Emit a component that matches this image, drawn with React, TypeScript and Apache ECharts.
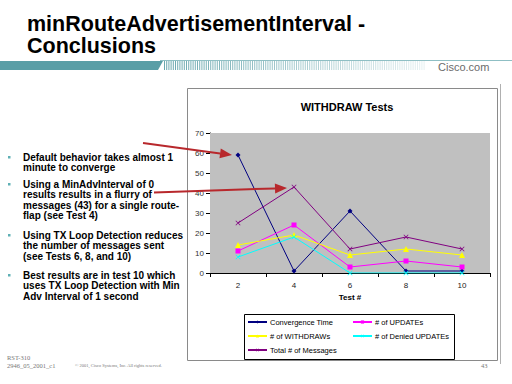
import React, { useEffect, useRef } from "react";
import * as echarts from "echarts";

const categories = ["2", "4", "6", "8", "10"];
const convergenceTime = [59, 1, 31, 1, 1];
const updates = [11, 24, 3, 6, 3];
const withdraws = [14, 19, 9, 12, 9];
const deniedUpdates = [8, 18, 0, 0, 0];
const totalMessages = [25, 43, 12, 18, 12];
const seriesNames = [
  "Convergence Time",
  "# of UPDATEs",
  "# of WITHDRAWs",
  "# of Denied UPDATEs",
  "Total # of Messages",
];

const titleLines = ["minRouteAdvertisementInterval -", "Conclusions"];
const bulletLines = [
  { t: "Default behavior takes almost 1", b: true },
  { t: "minute to converge", b: false },
  { t: "Using a MinAdvInterval of 0", b: true },
  { t: "results results in a flurry of", b: false },
  { t: "messages (43) for a single route-", b: false },
  { t: "flap (see Test 4)", b: false },
  { t: "Using TX Loop Detection reduces", b: true },
  { t: "the number of messages sent", b: false },
  { t: "(see Tests 6, 8, and 10)", b: false },
  { t: "Best results are in test 10 which", b: true },
  { t: "uses TX Loop Detection with Min", b: false },
  { t: "Adv Interval of 1 second", b: false },
];
const bulletY = [157, 167.5, 184, 194.5, 205, 215.5, 235, 245.5, 256, 275, 285.5, 296];

const SANS = 'Arial, "Liberation Sans", sans-serif';
const SERIF = '"Times New Roman", "Liberation Serif", serif';
const XSYM = "path://M0,1L1,0L5,4L9,0L10,1L6,5L10,9L9,10L5,6L1,10L0,9L4,5Z";

function arrow(x1: number, y1: number, x2: number, y2: number, color: string) {
  const dx = x2 - x1;
  const dy = y2 - y1;
  const len = Math.sqrt(dx * dx + dy * dy);
  const ux = dx / len;
  const uy = dy / len;
  const hl = 12;
  const hw = 5;
  const bx = x2 - ux * hl;
  const by = y2 - uy * hl;
  return [
    {
      type: "line",
      z: 200,
      shape: { x1, y1, x2: bx, y2: by },
      style: { stroke: color, lineWidth: 2 },
    },
    {
      type: "polygon",
      z: 200,
      shape: {
        points: [
          [x2, y2],
          [bx - uy * hw, by + ux * hw],
          [bx + uy * hw, by - ux * hw],
        ],
      },
      style: { fill: color },
    },
  ];
}

export default function App() {
  const ref = useRef<HTMLDivElement>(null);
  useEffect(() => {
    if (!ref.current) return;
    const chart = echarts.init(ref.current, undefined, { renderer: "svg" });

    const graphics: any[] = [];
    // header bar
    graphics.push({
      type: "rect",
      z: 1,
      shape: { x: 160, y: 60, width: 352, height: 1 },
      style: { fill: "#8fbfc4" },
    });
    graphics.push({
      type: "polygon",
      z: 2,
      shape: { points: [[0, 61], [163, 61], [158, 70], [0, 70]] },
      style: { fill: "#5a9ea6" },
    });
    for (let x = 164; x < 425; x += 2.2) {
      const f = (x - 164) / (425 - 164);
      graphics.push({
        type: "rect",
        z: 2,
        shape: { x, y: 61, width: 1, height: 9 },
        style: { fill: "#5a9ea6", opacity: 0.9 - 0.75 * f },
      });
    }
    graphics.push({
      type: "text",
      z: 5,
      x: 438,
      y: 67,
      style: { text: "Cisco.com", font: `11px ${SANS}`, fill: "#6b6b6b", verticalAlign: "middle" },
    });
    titleLines.forEach((t, i) => {
      graphics.push({
        type: "text",
        z: 5,
        x: 27,
        y: 23.5 + i * 22.5,
        style: { text: t, font: `bold 21.5px ${SANS}`, fill: "#000", verticalAlign: "middle", lineHeight: 21 },
      });
    });
    bulletLines.forEach((l, i) => {
      graphics.push({
        type: "text",
        z: 5,
        x: 23,
        y: bulletY[i],
        style: { text: l.t, font: `bold 10px ${SANS}`, fill: "#000", verticalAlign: "middle" },
      });
      if (l.b) {
        graphics.push({
          type: "rect",
          z: 5,
          shape: { x: 8, y: bulletY[i] - 1, width: 2.5, height: 2.5 },
          style: { fill: "#5fb0b5" },
        });
      }
    });
    // chart box
    graphics.push({
      type: "rect",
      z: 0,
      shape: { x: 187.5, y: 88.5, width: 310, height: 272 },
      style: { fill: "#fff", stroke: "#8a8a8a", lineWidth: 1 },
    });
    graphics.push({
      type: "line",
      z: 0,
      shape: { x1: 500.5, y1: 84, x2: 500.5, y2: 364 },
      style: { stroke: "#b0b0b0", lineWidth: 1 },
    });
    // legend box
    graphics.push({
      type: "rect",
      z: 1,
      shape: { x: 244.5, y: 314.5, width: 210, height: 45 },
      style: { fill: "#fff", stroke: "#000", lineWidth: 1 },
    });
    // footer
    graphics.push({
      type: "text", z: 5, x: 7, y: 357,
      style: { text: "RST-310", font: `6.5px ${SERIF}`, fill: "#777", verticalAlign: "middle" },
    });
    graphics.push({
      type: "text", z: 5, x: 7, y: 365,
      style: { text: "2946_05_2001_c1", font: `6.5px ${SERIF}`, fill: "#777", verticalAlign: "middle" },
    });
    graphics.push({
      type: "text", z: 5, x: 75, y: 365.5,
      style: { text: "© 2001, Cisco Systems, Inc. All rights reserved.", font: `4.5px ${SERIF}`, fill: "#777", verticalAlign: "middle" },
    });
    graphics.push({
      type: "text", z: 5, x: 481, y: 365,
      style: { text: "43", font: `6.5px ${SERIF}`, fill: "#777", verticalAlign: "middle" },
    });
    // arrows
    graphics.push(...arrow(143, 143, 232, 155, "#b8282c"));
    graphics.push(...arrow(154, 192.5, 287, 188, "#b8282c"));

    const colors = ["#000080", "#ff00ff", "#ffff00", "#00ffff", "#800080"];
    const symbols = ["diamond", "rect", "triangle", XSYM, XSYM];
    const sizes = [5, 5, 6, 5, 5];
    const data = [convergenceTime, updates, withdraws, deniedUpdates, totalMessages];

    const legendPos = [
      { left: 247, top: 318 },
      { left: 352, top: 318 },
      { left: 247, top: 332 },
      { left: 352, top: 332 },
      { left: 247, top: 346 },
    ];

    chart.setOption({
      animation: false,
      backgroundColor: "#fff",
      title: {
        text: "WITHDRAW Tests",
        left: 342,
        top: 96,
        textAlign: "center",
        textStyle: { fontFamily: SANS, fontSize: 11, fontWeight: "bold", color: "#000" },
      },
      graphic: { elements: graphics },
      legend: seriesNames.map((n, i) => ({
        data: [n],
        left: legendPos[i].left,
        top: legendPos[i].top,
        orient: "horizontal",
        selectedMode: false,
        itemWidth: 19,
        itemHeight: 4,
        padding: 0,
        z: 10,
        textStyle: { fontFamily: SANS, fontSize: 7.5, color: "#000", padding: [0, 0, 0, -2] },
      })),
      grid: {
        left: 210,
        right: 22,
        top: 133,
        bottom: 111,
        show: true,
        backgroundColor: "#c0c0c0",
        borderColor: "#808080",
        borderWidth: 0,
        containLabel: false,
        outerBoundsMode: "none",
        z: 2,
      },
      xAxis: {
        type: "category",
        data: categories,
        boundaryGap: true,
        name: "Test #",
        nameLocation: "middle",
        nameGap: 20,
        nameTextStyle: { fontFamily: SANS, fontSize: 8, fontWeight: "bold", color: "#000" },
        axisLine: { show: true, lineStyle: { color: "#000", width: 1 } },
        axisTick: { show: true, alignWithLabel: false, length: 4, lineStyle: { color: "#000" } },
        axisLabel: { fontFamily: SANS, fontSize: 8, color: "#222", margin: 8 },
        splitLine: { show: false },
      },
      yAxis: {
        type: "value",
        min: 0,
        max: 70,
        interval: 10,
        axisLine: { show: true, lineStyle: { color: "#000", width: 1 } },
        axisTick: { show: true, length: 4, lineStyle: { color: "#000" } },
        axisLabel: { fontFamily: SANS, fontSize: 8, color: "#333", margin: 6 },
        splitLine: { show: true, lineStyle: { color: "#000", width: 1 } },
      },
      series: seriesNames.map((n, i) => ({
        name: n,
        type: "line",
        data: data[i],
        symbol: symbols[i],
        symbolSize: sizes[i],
        showSymbol: true,
        z: 3 + i,
        lineStyle: { color: colors[i], width: 1 },
        itemStyle: { color: colors[i], borderWidth: 0 },
      })),
    });
    return () => chart.dispose();
  }, []);
  return (
    <div
      ref={ref}
      style={{ position: "fixed", left: 0, top: 0, width: 512, height: 384 }}
    />
  );
}
